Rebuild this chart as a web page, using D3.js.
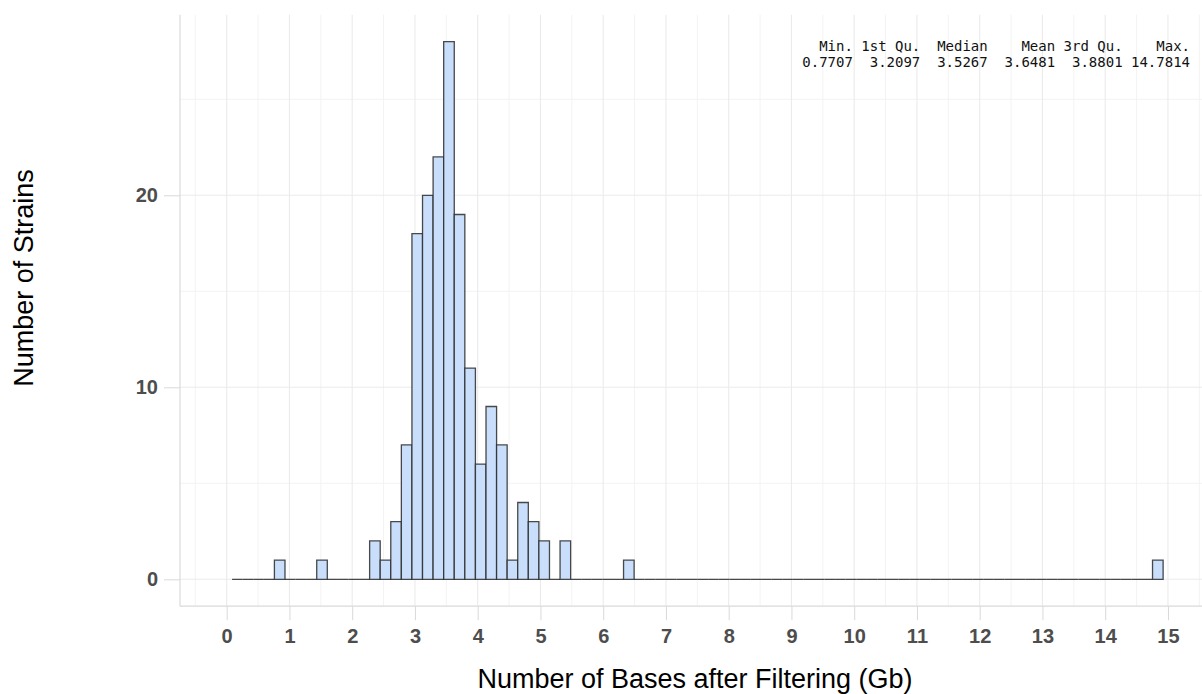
<!DOCTYPE html>
<html>
<head>
<meta charset="utf-8">
<script src="https://cdn.jsdelivr.net/npm/d3@7"></script>
<style>
    body { margin: 0; background: #fff; }
    text { font-family: "Liberation Sans", Arial, sans-serif; }
</style>
</head>
<body>
<script>
const W = 1202;
const H = 694;

// histogram bins (Gb), first bin edge and width
const binStart = 0.086;
const binWidth = 0.1686;
const counts = [
    0, 0, 0, 0, 1, 0, 0, 0, 1, 0,
    0, 0, 0, 2, 1, 3, 7, 18, 20, 22,
    28, 19, 11, 6, 9, 7, 1, 4, 3, 2,
    0, 2, 0, 0, 0, 0, 0, 1, 0, 0,
    0, 0, 0, 0, 0, 0, 0, 0, 0, 0,
    0, 0, 0, 0, 0, 0, 0, 0, 0, 0,
    0, 0, 0, 0, 0, 0, 0, 0, 0, 0,
    0, 0, 0, 0, 0, 0, 0, 0, 0, 0,
    0, 0, 0, 0, 0, 0, 0, 1
];

const xTicks = d3.range(0, 16);
const xMinor = d3.range(-0.5, 16, 1);
const yTicks = [0, 10, 20];
const yMinor = [5, 15, 25];

const summaryHead = "   Min. 1st Qu.  Median    Mean 3rd Qu.    Max.";
const summaryVals = " 0.7707  3.2097  3.5267  3.6481  3.8801 14.7814";

const xTitle = "Number of Bases after Filtering (Gb)";
const yTitle = "Number of Strains";

const svg = d3.select("body")
    .append("svg")
    .attr("width", W)
    .attr("height", H);

const x = d3.scaleLinear().domain([-0.744, 15.67]).range([180, 1210]);
const y = d3.scaleLinear().domain([-1.4, 29.4]).range([606.2, 14.8]);

const panelLeft = x.range()[0];
const panelBottom = y.range()[0];
const panelTop = y.range()[1];

// grid
const grid = svg.append("g");
xMinor.forEach(function (v) {
    grid.append("line")
        .attr("x1", x(v)).attr("x2", x(v))
        .attr("y1", panelTop).attr("y2", panelBottom)
        .style("stroke", "#f3f3f3").style("stroke-width", 1);
});
yMinor.forEach(function (v) {
    grid.append("line")
        .attr("x1", panelLeft).attr("x2", W)
        .attr("y1", y(v)).attr("y2", y(v))
        .style("stroke", "#f3f3f3").style("stroke-width", 1);
});
xTicks.forEach(function (v) {
    grid.append("line")
        .attr("x1", x(v)).attr("x2", x(v))
        .attr("y1", panelTop).attr("y2", panelBottom)
        .style("stroke", "#ebebeb").style("stroke-width", 1.1);
});
yTicks.forEach(function (v) {
    grid.append("line")
        .attr("x1", panelLeft).attr("x2", W)
        .attr("y1", y(v)).attr("y2", y(v))
        .style("stroke", "#ebebeb").style("stroke-width", 1.1);
});

// axes
const xAxis = svg.append("g")
    .attr("transform", "translate(0," + panelBottom + ")")
    .call(d3.axisBottom(x).tickValues(xTicks).tickSize(14).tickPadding(9).tickFormat(d3.format("d")));
const yAxis = svg.append("g")
    .attr("transform", "translate(" + panelLeft + ",0)")
    .call(d3.axisLeft(y).tickValues(yTicks).tickSize(16).tickPadding(6).tickFormat(d3.format("d")));

[xAxis, yAxis].forEach(function (a) {
    a.select(".domain").remove();
    a.selectAll(".tick line").style("stroke", "#d9d9d9").style("stroke-width", 1);
    a.selectAll(".tick text")
        .style("font-family", "'Liberation Sans', Arial, sans-serif")
        .style("font-size", "20px")
        .style("font-weight", "bold")
        .style("fill", "#4d4d4d");
});

// panel border left and bottom
svg.append("line")
    .attr("x1", panelLeft).attr("x2", panelLeft).attr("y1", panelTop).attr("y2", panelBottom)
    .style("stroke", "#dadada").style("stroke-width", 1.2);
svg.append("line")
    .attr("x1", panelLeft).attr("x2", W).attr("y1", panelBottom).attr("y2", panelBottom)
    .style("stroke", "#dadada").style("stroke-width", 1.2);

// bars (zero bins still get an outline, like ggplot)
svg.append("g")
    .selectAll("path")
    .data(counts)
    .join("path")
    .attr("d", function (c, i) {
        const x0 = x(binStart + i * binWidth);
        const x1 = x(binStart + (i + 1) * binWidth);
        return "M" + x0 + "," + y(0) + "V" + y(c) + "H" + x1 + "V" + y(0) + "Z";
    })
    .style("fill", "#c8defa")
    .style("stroke", "#2a2a2a")
    .style("stroke-opacity", 0.85)
    .style("stroke-width", 1.3);

// summary table
[summaryHead, summaryVals].forEach(function (s, i) {
    svg.append("text")
        .attr("x", 1190)
        .attr("y", 51 + i * 16)
        .attr("text-anchor", "end")
        .style("white-space", "pre")
        .style("font-family", "'DejaVu Sans Mono', monospace")
        .style("font-size", "14px")
        .style("fill", "#111")
        .text(s);
});

// titles
svg.append("text")
    .attr("x", 695)
    .attr("y", 688)
    .attr("text-anchor", "middle")
    .style("font-size", "27px")
    .style("fill", "#000")
    .text(xTitle);

svg.append("text")
    .attr("transform", "translate(33,278) rotate(-90)")
    .attr("text-anchor", "middle")
    .style("font-size", "27px")
    .style("fill", "#000")
    .text(yTitle);
</script>
</body>
</html>
